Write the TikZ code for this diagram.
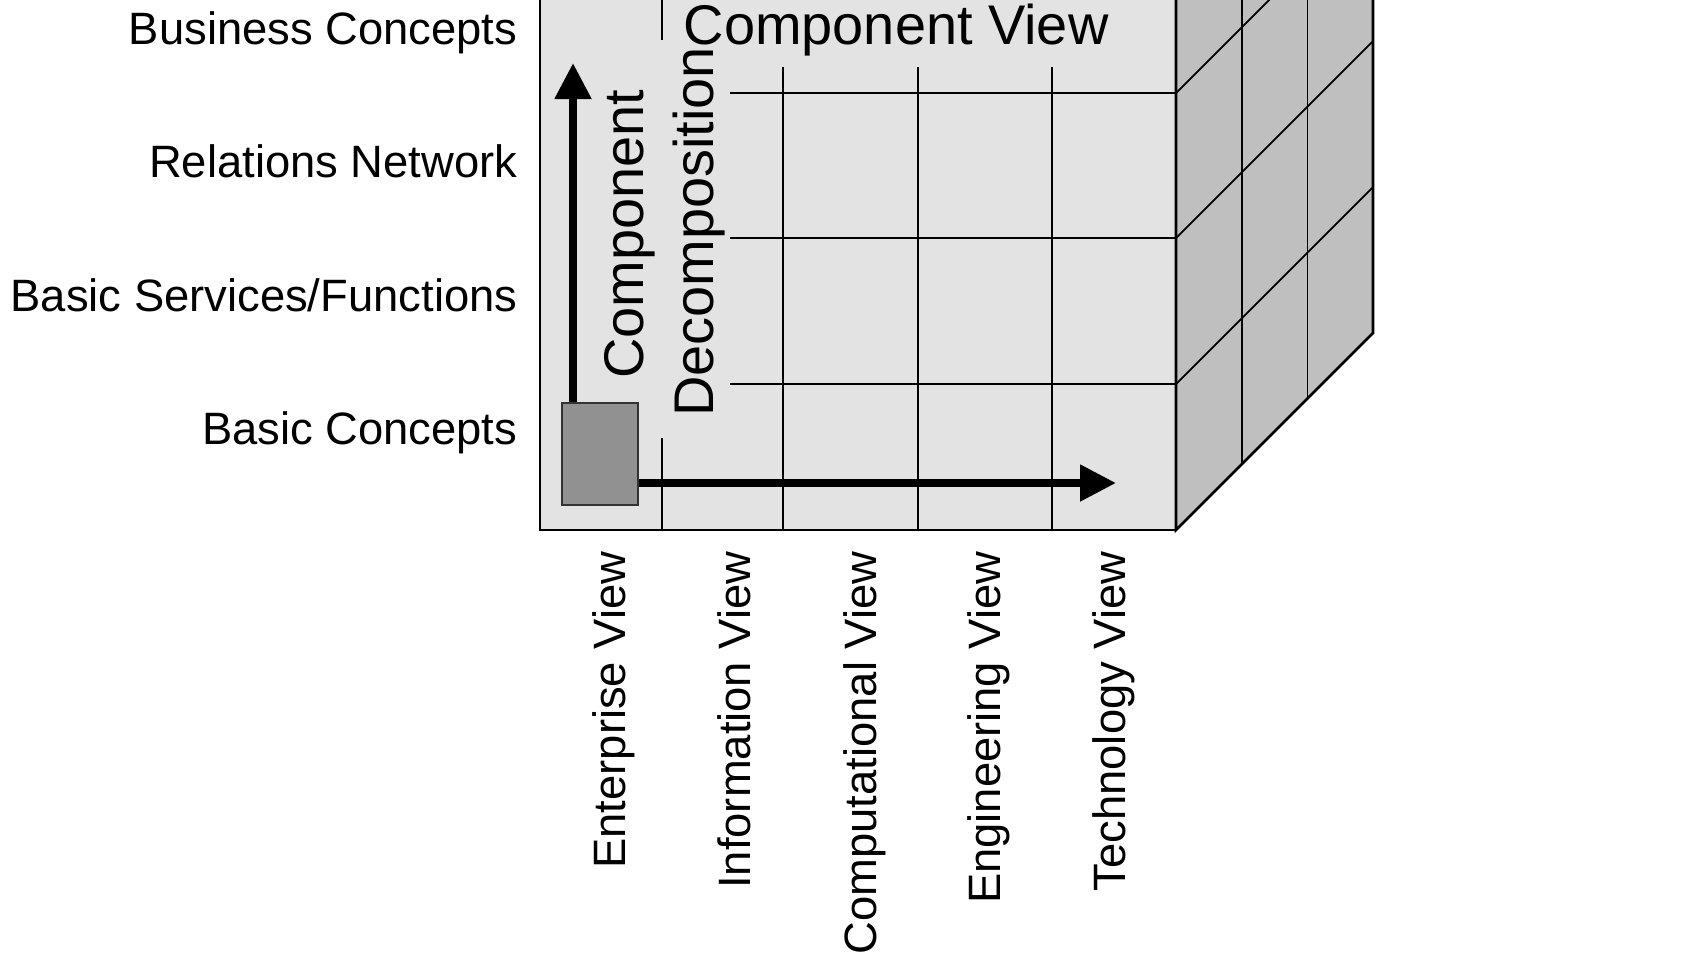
\documentclass[tikz,border=0pt]{standalone}
\usepackage{fontspec}
\setmainfont{Liberation Sans}
\usetikzlibrary{arrows.meta, positioning}
\tikzset{
  >={Triangle[length=3.6mm,width=3.5mm]},
  facefront/.style={fill=black!11,draw=black,line width=0.75pt},
  faceside/.style={fill=black!25,draw=black,line width=0.75pt},
  gridln/.style={draw=black,line width=0.5pt},
  rowlbl/.style={anchor=base east,inner sep=0pt,font=\fontsize{12.9}{15}\selectfont},
  collbl/.style={rotate=90,anchor=base east,inner sep=0pt,font=\fontsize{12.9}{15}\selectfont},
  bigtxt/.style={inner sep=0pt,font=\fontsize{15.9}{19}\selectfont},
  compbox/.style={draw=black!80,fill=black!43,line width=0.8pt,
    minimum width=0.76cm,minimum height=1.02cm,inner sep=0pt},
  bigarr/.style={->,line width=2.3pt}
}

\begin{document}
\begin{tikzpicture}[x=0.01cm,y=-0.01cm]
  \useasboundingbox (0,0) rectangle (1695,955);
  \clip (0,0) rectangle (1695,955);

  % Front face
  \draw[facefront] (540,-200) rectangle (1176,530);
  % Side face
  \draw[faceside] (1176,530) -- (1373,333) -- (1373,-397) -- (1176,-200) -- cycle;

  % rows, carried on along the side
  \foreach \y in {93,238,384}
    \draw[gridln] (730,\y) -- (1176,\y) -- ++(197,-197);
  % columns of the front
  \foreach \x in {783,918,1052}
    \draw[gridln] (\x,67) -- (\x,530);
  \draw[gridln] (662,-200) -- (662,40);
  \draw[gridln] (662,438) -- (662,530);
  % columns of the side
  \foreach \d in {1,2}
    \draw[gridln] (1176+65.7*\d,-300) -- (1176+65.7*\d,530-65.7*\d);

  % Row labels
  \node[rowlbl] (rowbiz) at (518,45) {Business Concepts};
  \node[rowlbl] (rowrel) at (518,178) {Relations Network};
  \node[rowlbl] (rowsvc) at (518,311) {Basic Services/Functions};
  \node[rowlbl] (rowbas) at (518,444) {Basic Concepts};

  % View labels
  \foreach \txt/\x [count=\i] in {Enterprise View/625,Information View/750,
    Computational View/876,Engineering View/1000,Technology View/1125}
  {
    \node[collbl] (col\i) at (\x,551) {\txt};
  }

  % Axis texts
  \node[bigtxt,rotate=90,anchor=base] (cmp) at (643,234) {Component};
  \node[bigtxt,rotate=90,anchor=base] (dec) at (713,232) {Decomposition};
  \node[bigtxt,anchor=base west] (cview) at (683,45) {Component View};

  % Component and its two axes
  \node[compbox] (box) at (600,454) {};
  \coordinate (uptip) at (573,63);
  \coordinate (rttip) at (1116,483);
  \draw[bigarr] (box.north -| uptip) -- (uptip);
  \draw[bigarr] (box.east |- rttip) -- (rttip);
\end{tikzpicture}
\end{document}
